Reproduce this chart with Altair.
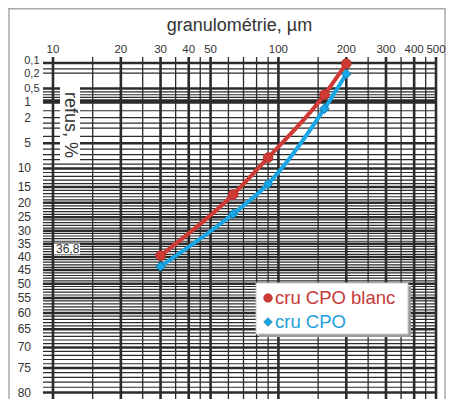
import math
import altair as alt
import pandas as pd

# ---------------- data ----------------
sizes = [30, 63, 90, 160, 200]                      # granulométrie, µm
refus_blanc = [39.5, 17.3, 7.6, 0.70, 0.105]        # cru CPO blanc, refus %
refus_cpo = [43.6, 23.8, 14.1, 1.37, 0.21]          # cru CPO, refus %
series = ["cru CPO blanc", "cru CPO"]

x_major = [10, 20, 30, 40, 50, 100, 200, 300, 400, 500]
x_minor = [15, 25, 35, 45, 60, 70, 80, 90, 150, 250, 350, 450]

y_label_top = [0.1]
y_labels_dec = [0.2, 0.5]
y_labels_int = [1, 2, 5, 10, 15, 20, 25, 30, 35, 40, 45, 50, 55, 60, 65, 70, 75, 80]
y_extra = [1]
y_thick = [0.1, 0.5, 5] + list(range(10, 81, 5))
y_thin = [0.15, 0.2, 0.6, 0.7, 0.8, 0.9, 1.5, 2, 2.5, 3, 4, 6, 7, 8, 9] + \
         [v for v in range(11, 80) if v % 5 != 0]
mark_368 = [36.8]

RED = "#d03a35"
BLUE = "#18a6e6"
RED_TXT = "#c63a3a"
BLUE_TXT = "#249fdc"
GRID = "#2b2b2b"
TXT = "#333333"
FONT = "Liberation Sans"


def rrsb(r):
    return math.log10(math.log(100.0 / r))


def lab(v):
    return str(v).replace(".", ",")


W, H = 393, 342
xs = alt.Scale(type="log", domain=[9.03, 500], nice=False)
ys = alt.Scale(domain=[-0.6808, 0.8664], nice=False, zero=False)

df_pts = pd.DataFrame({
    "size": sizes * 2,
    "refus": refus_blanc + refus_cpo,
    "series": [series[0]] * len(sizes) + [series[1]] * len(sizes),
})
df_pts["f"] = df_pts["refus"].apply(rrsb)


def hdf(vals):
    return pd.DataFrame({"f": [rrsb(v) for v in vals], "t": [lab(v) for v in vals]})


def vdf(vals):
    return pd.DataFrame({"v": vals, "t": [str(v) for v in vals]})


one = pd.DataFrame({"a": [0]})

X = lambda f: alt.X(f, scale=xs, axis=None)
Y = lambda f: alt.Y(f, scale=ys, axis=None)

layers = []

# frame
frame = alt.Chart(one)
layers += [
    frame.mark_rule(color="#a8a8a8", strokeWidth=1.5).encode(
        x=alt.value(-35), x2=alt.value(402), y=alt.value(-48.3)),
    frame.mark_rule(color="#a8a8a8", strokeWidth=1.5).encode(
        x=alt.value(-34), y=alt.value(-49), y2=alt.value(H + 5)),
    frame.mark_rule(color="#a8a8a8", strokeWidth=1.5).encode(
        x=alt.value(402), y=alt.value(-49), y2=alt.value(H + 5)),
]

# grid
layers += [
    alt.Chart(hdf(y_thin)).mark_rule(color=GRID, strokeWidth=1.2).encode(y=Y("f:Q")),
    alt.Chart(hdf(y_thick)).mark_rule(color=GRID, strokeWidth=2.5).encode(y=Y("f:Q")),
    alt.Chart(hdf(y_extra)).mark_rule(color=GRID, strokeWidth=3.8).encode(y=Y("f:Q")),
    alt.Chart(vdf(x_minor)).mark_rule(color=GRID, strokeWidth=1.3).encode(x=X("v:Q")),
    alt.Chart(vdf(x_major)).mark_rule(color=GRID, strokeWidth=2.6).encode(x=X("v:Q")),
]

# white boxes (y title, 36,8)
layers += [
    alt.Chart(one).mark_rect(color="white").encode(
        x=alt.value(17), x2=alt.value(37), y=alt.value(30), y2=alt.value(106)),
    alt.Chart(one).mark_rect(color="white").encode(
        x=alt.value(11), x2=alt.value(37), y=alt.value(186.5), y2=alt.value(197.5)),
]

# texts
layers += [
    alt.Chart(vdf(x_major)).mark_text(font=FONT, fontSize=11.5, color=TXT, align="center",
                                      baseline="alphabetic").encode(
        x=X("v:Q"), y=alt.value(-4), text="t:N"),
    alt.Chart(hdf(y_labels_int)).mark_text(font=FONT, fontSize=12, color=TXT, align="right",
                                           baseline="middle").encode(
        y=Y("f:Q"), x=alt.value(-12), text="t:N"),
    alt.Chart(hdf(y_label_top)).mark_text(font=FONT, fontSize=11, color=TXT, align="right",
                                          baseline="middle", dy=-1.5).encode(
        y=Y("f:Q"), x=alt.value(-3.5), text="t:N"),
    alt.Chart(hdf(y_labels_dec)).mark_text(font=FONT, fontSize=11, color=TXT, align="right",
                                           baseline="middle", dy=0.5).encode(
        y=Y("f:Q"), x=alt.value(-3.5), text="t:N"),
    alt.Chart(hdf(mark_368)).mark_text(font=FONT, fontSize=12, color=TXT, align="left",
                                       baseline="middle").encode(
        y=Y("f:Q"), x=alt.value(13), text="t:N"),
    alt.Chart(pd.DataFrame({"t": ["granulométrie, µm"]})).mark_text(
        font=FONT, fontSize=18, color=TXT, align="center", baseline="middle").encode(
        x=alt.value(W / 2), y=alt.value(-31), text="t:N"),
    alt.Chart(pd.DataFrame({"t": ["refus, %"]})).mark_text(
        font=FONT, fontSize=18, color=TXT, align="center", baseline="middle", angle=90).encode(
        x=alt.value(27), y=alt.value(68), text="t:N"),
]

# data
cscale = alt.Scale(domain=series, range=[RED, BLUE])
sscale = alt.Scale(domain=series, range=["circle", "diamond"])
strokescale = alt.Scale(domain=series, range=["#a82a27", "#106c9c"])
base = alt.Chart(df_pts)
layers += [
    base.mark_line(interpolate="monotone", strokeWidth=4).encode(
        x=X("size:Q"), y=Y("f:Q"),
        color=alt.Color("series:N", scale=cscale, legend=None),
        detail="series:N"),
    base.mark_point(filled=True, size=95, opacity=1, strokeWidth=0.8).encode(
        x=X("size:Q"), y=Y("f:Q"),
        fill=alt.Fill("series:N", scale=cscale, legend=None),
        stroke=alt.Stroke("series:N", scale=strokescale, legend=None),
        shape=alt.Shape("series:N", scale=sscale, legend=None)),
]

# legend (manual)
leg = pd.DataFrame({"series": series, "row": [0, 1]})
lx0, ly0 = 213, 226
layers += [
    alt.Chart(one).mark_rect(color="#9a9a9a").encode(
        x=alt.value(lx0 + 3), x2=alt.value(lx0 + 155), y=alt.value(ly0 + 3), y2=alt.value(ly0 + 54)),
    alt.Chart(one).mark_rect(fill="white", stroke="#c8c8c8", strokeWidth=1).encode(
        x=alt.value(lx0), x2=alt.value(lx0 + 152), y=alt.value(ly0), y2=alt.value(ly0 + 51)),
    alt.Chart(leg.iloc[[0]]).mark_point(filled=True, size=75, shape="circle", opacity=1,
                                        color=RED, stroke="#a82a27", strokeWidth=0.6).encode(
        x=alt.value(lx0 + 12), y=alt.value(ly0 + 15)),
    alt.Chart(leg.iloc[[1]]).mark_point(filled=True, size=75, shape="diamond", opacity=1,
                                        color=BLUE, stroke="#106c9c", strokeWidth=0.6).encode(
        x=alt.value(lx0 + 12), y=alt.value(ly0 + 39)),
    alt.Chart(leg.iloc[[0]]).mark_text(font=FONT, fontSize=18.5, color=RED_TXT, align="left",
                                       baseline="middle").encode(
        x=alt.value(lx0 + 19), y=alt.value(ly0 + 15), text="series:N"),
    alt.Chart(leg.iloc[[1]]).mark_text(font=FONT, fontSize=18.5, color=BLUE_TXT, align="left",
                                       baseline="middle").encode(
        x=alt.value(lx0 + 19), y=alt.value(ly0 + 39), text="series:N"),
]

chart = alt.layer(*layers).properties(
    width=W, height=H,
    autosize=alt.AutoSizeParams(type="none"),
    padding={"left": 35, "top": 49, "right": 10, "bottom": 0},
    background="white",
).configure_view(stroke=None)

chart.save("out.html", embed_options={"renderer": "svg", "actions": False})
